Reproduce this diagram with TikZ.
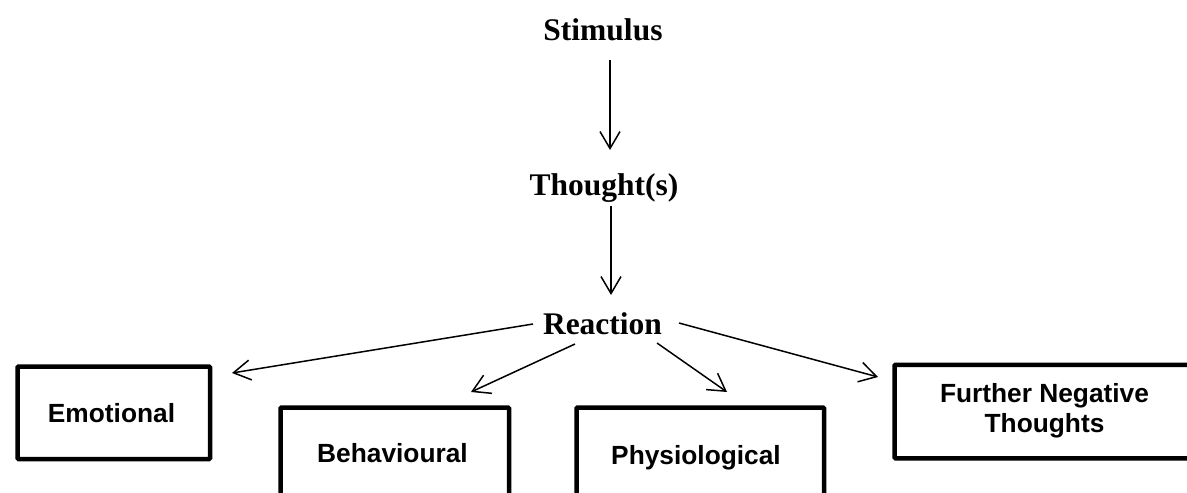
\documentclass[tikz,border=0pt]{standalone}
\usepackage{fontspec}
\setmainfont{Liberation Serif}
\setsansfont{Liberation Sans}
\usetikzlibrary{arrows.meta}
\begin{document}
\begin{tikzpicture}[x=1pt,y=-1pt,
  stage/.style={font=\bfseries\fontsize{31.5}{36}\selectfont, inner sep=0pt, anchor=base},
  boxlabel/.style={font=\sffamily\bfseries\fontsize{26.3}{30}\selectfont, inner sep=0pt, align=center},
  frame/.style={draw, line width=4.5pt, inner sep=0pt, anchor=north west, rounded corners=1pt},
  link/.style={line width=1.5pt, -{Straight Barb[length=17pt,width=20pt]}}]
\useasboundingbox (0,0) rectangle (1187,493);
\clip (0,0) rectangle (1187,493);

% chain of stages
\node[stage] (stim) at (603,40) {Stimulus};
\node[stage] (thought) at (604,195) {Thought(s)};
\node[stage] (react) at (602.5,334) {Reaction};

% reaction categories
\node[frame, minimum width=192.5pt, minimum height=92.5pt] (emo) at (15.25,364.25) {};
\node[boxlabel, anchor=base] (emo-t) at (111.5,422) {Emotional};

\node[frame, minimum width=228.5pt, minimum height=100pt] (beh) at (278.25,405.25) {};
\node[boxlabel, anchor=base] (beh-t) at (392.5,462) {Behavioural};

\node[frame, minimum width=247.5pt, minimum height=100pt] (phy) at (574.25,405.25) {};
\node[boxlabel, anchor=base] (phy-t) at (696,464) {Physiological};

\node[frame, minimum width=305pt, minimum height=93.5pt] (fnt) at (892.25,362.5) {};
\node[boxlabel, anchor=center] (fnt-t) at (1044.5,411) {Further Negative\\Thoughts};

% connector end points
\coordinate (s-out) at (610,60);
\coordinate (t-in) at (610,150);
\coordinate (t-out) at (611,206);
\coordinate (r-in) at (611,295);
\coordinate (r-emo) at (533,324);
\coordinate (emo-in) at (232,373);
\coordinate (r-beh) at (575,344);
\coordinate (beh-in) at (471,392);
\coordinate (r-phy) at (657,343);
\coordinate (phy-in) at (727,392);
\coordinate (r-fnt) at (679,323);
\coordinate (fnt-in) at (878,377);

\draw[link] (s-out) -- (t-in);
\draw[link] (t-out) -- (r-in);
\draw[link] (r-emo) -- (emo-in);
\draw[link] (r-beh) -- (beh-in);
\draw[link] (r-phy) -- (phy-in);
\draw[link] (r-fnt) -- (fnt-in);
\end{tikzpicture}
\end{document}
